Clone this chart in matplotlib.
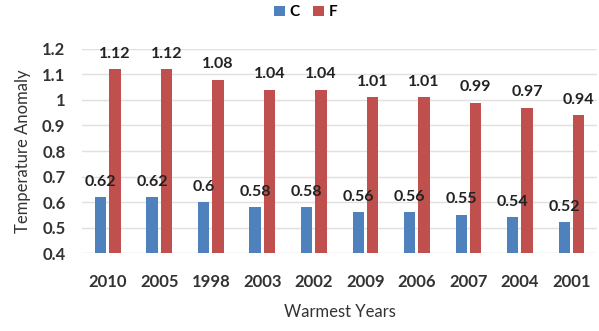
import numpy as np
import matplotlib
matplotlib.use("Agg")
import matplotlib.pyplot as plt

plt.rcParams['font.family'] = ['Lato', 'DejaVu Sans']

years = ["2010", "2005", "1998", "2003", "2002", "2009", "2006", "2007", "2004", "2001"]
c_vals = [0.62, 0.62, 0.60, 0.58, 0.58, 0.56, 0.56, 0.55, 0.54, 0.52]
f_vals = [1.12, 1.12, 1.08, 1.04, 1.04, 1.01, 1.01, 0.99, 0.97, 0.94]
y_ticks = [0.4, 0.5, 0.6, 0.7, 0.8, 0.9, 1.0, 1.1, 1.2]

blue = "#4F81BD"
red = "#C0504D"

fig = plt.figure(figsize=(5.99, 3.31), dpi=100)
ax = fig.add_axes([0.137, 0.2356, 0.860, 0.6164])

x = np.arange(len(years))
w = 0.22
bc = ax.bar(x - 0.14, np.array(c_vals) - 0.4, w, bottom=0.4, color=blue, label="C", zorder=3)
bf = ax.bar(x + 0.14, np.array(f_vals) - 0.4, w, bottom=0.4, color=red, label="F", zorder=3)

def fmt(v):
    s = "{:.2f}".format(v).rstrip("0").rstrip(".")
    return s

for xi, v in zip(x, c_vals):
    ax.annotate(fmt(v), (xi - 0.14, v), xytext=(0, 6), textcoords="offset points",
                ha="center", va="bottom", fontsize=11.5, fontweight="bold", color="#222222", zorder=4)
for xi, v in zip(x, f_vals):
    ax.annotate(fmt(v), (xi + 0.14, v), xytext=(0, 6), textcoords="offset points",
                ha="center", va="bottom", fontsize=11.5, fontweight="bold", color="#222222", zorder=4)

ax.set_xlim(-0.5, len(years) - 0.5)
ax.set_ylim(0.4, 1.2)
ax.set_yticks(y_ticks)
ax.set_yticklabels([fmt(t) for t in y_ticks], fontsize=12, fontweight="bold", color="#333333")
ax.set_xticks(x)
ax.set_xticklabels(years, fontsize=12, fontweight="bold", color="#333333")
ax.tick_params(axis="x", length=0, pad=15)
ax.tick_params(axis="y", length=0, pad=12)
ax.grid(axis="y", color="#E0E0E0", linewidth=1, zorder=0)
for s in ax.spines.values():
    s.set_visible(False)

ax.set_ylabel("Temperature Anomaly", fontsize=12, color="#333333", labelpad=8)
ax.set_xlabel("Warmest Years", fontsize=12, color="#333333", labelpad=10)

fig.legend(handles=[bc, bf], labels=["C", "F"], loc="center", bbox_to_anchor=(0.51, 0.963),
           ncol=2, frameon=False, handlelength=0.7, handleheight=0.7,
           handletextpad=0.3, columnspacing=0.9, prop={"weight": "bold", "size": 11})

fig.savefig("out.png", dpi=100)
